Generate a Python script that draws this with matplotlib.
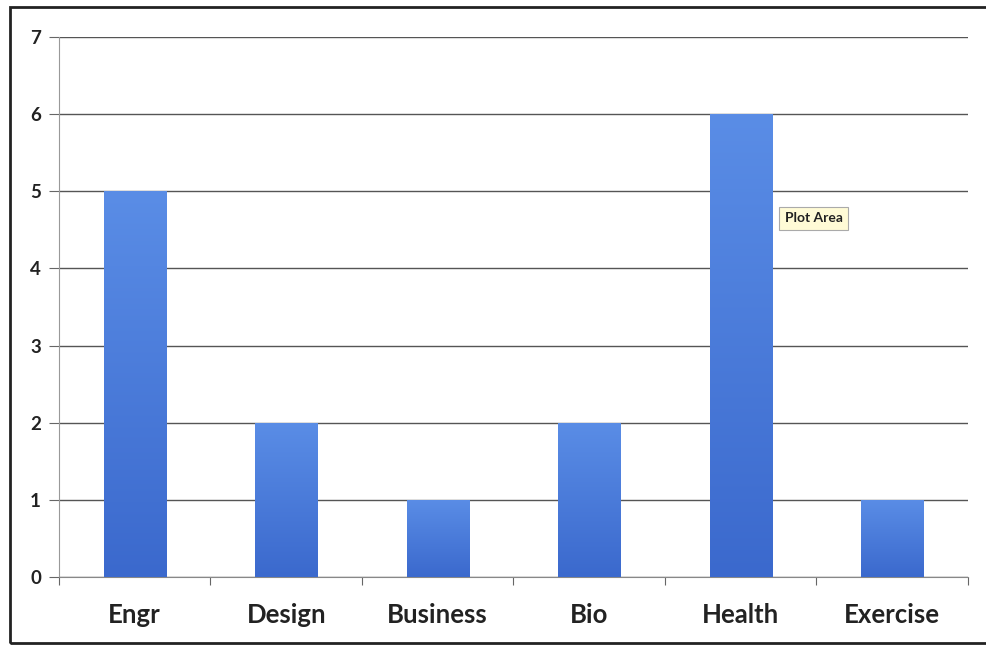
import numpy as np
import matplotlib
matplotlib.use("Agg")
import matplotlib.pyplot as plt
from matplotlib.patches import Rectangle
from matplotlib.colors import LinearSegmentedColormap

categories = ["Engr", "Design", "Business", "Bio", "Health", "Exercise"]
counts = [5, 2, 1, 2, 6, 1]
y_ticks = [0, 1, 2, 3, 4, 5, 6, 7]

plt.rcParams["font.family"] = ["Lato", "DejaVu Sans"]

fig = plt.figure(figsize=(9.86, 6.47), dpi=100)
fig.patch.set_facecolor("white")
ax = fig.add_axes([0.0598, 0.1082, 0.9219, 0.8346])

x = np.arange(len(categories))
bars = ax.bar(x, counts, width=0.41, color="none", zorder=3)

# vertical blue gradient fill for every bar
grad = LinearSegmentedColormap.from_list("bluegrad", ["#3b69cd", "#5a8de6"])
gimg = np.linspace(0, 1, 256).reshape(-1, 1)
for b in bars:
    x0, y0 = b.get_x(), b.get_y()
    w, h = b.get_width(), b.get_height()
    im = ax.imshow(gimg, cmap=grad, origin="lower", aspect="auto",
                   extent=[x0, x0 + w, y0, y0 + h], zorder=3)
    im.set_clip_path(b)

ax.set_xlim(-0.5, len(categories) - 0.5)
ax.set_ylim(0, 7)
ax.set_yticks(y_ticks)
ax.set_yticklabels([str(t) for t in y_ticks], fontsize=13.5, fontweight="bold", color="#222222")
ax.yaxis.grid(True, color="#555555", linewidth=1.0, zorder=1)
ax.set_axisbelow(True)

ax.set_xticks(np.arange(-0.5, len(categories), 1.0))
ax.set_xticklabels([])
ax.set_xticks(x, minor=True)
ax.set_xticklabels(categories, minor=True, fontsize=18.5, fontweight="bold", color="#222222")
ax.tick_params(axis="x", which="major", direction="out", length=6, color="#666666")
ax.tick_params(axis="x", which="minor", length=0, pad=19)
ax.tick_params(axis="y", direction="out", length=7, color="#666666", pad=6)

for side in ("top", "right"):
    ax.spines[side].set_visible(False)
ax.spines["left"].set_color("#999999")
ax.spines["bottom"].set_color("#888888")

# tooltip label
ax.text(4.29, 4.65, "Plot Area", fontsize=10, fontweight="bold", color="#222222",
        ha="left", va="center", zorder=5,
        bbox=dict(boxstyle="square,pad=0.4", facecolor="#fffbd6", edgecolor="#aaaaaa", linewidth=0.8))

# outer frame around the chart area
frame = Rectangle((10 / 986, 1 - 643 / 647), 1.1, (643 - 7) / 647, transform=fig.transFigure,
                  fill=False, edgecolor="#222222", linewidth=2, clip_on=False)
fig.patches.append(frame)

fig.savefig("out.png", dpi=100)
